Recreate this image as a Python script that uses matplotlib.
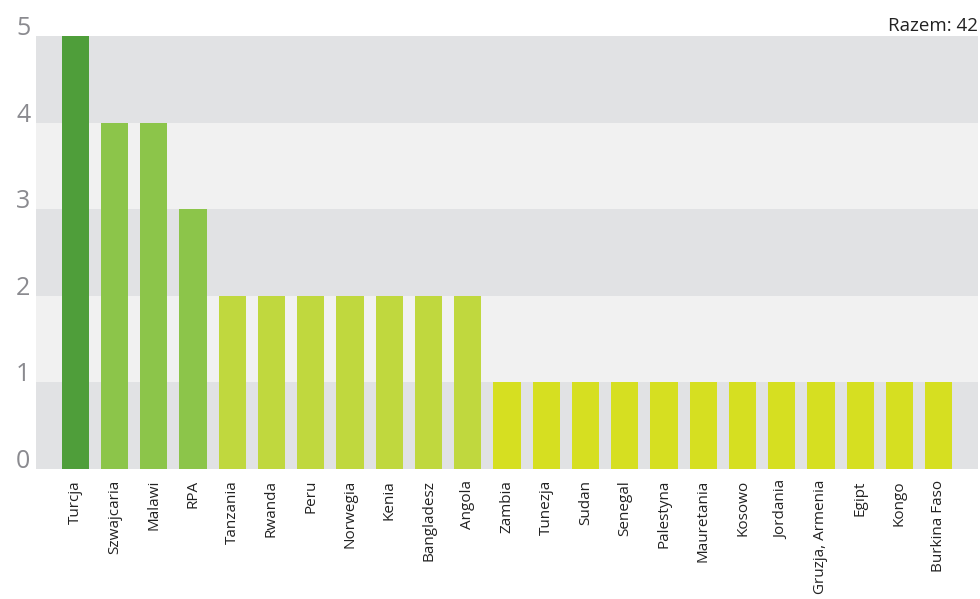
import matplotlib
matplotlib.use("Agg")
import matplotlib.pyplot as plt

categories = ["Turcja", "Szwajcaria", "Malawi", "RPA", "Tanzania", "Rwanda", "Peru",
              "Norwegia", "Kenia", "Bangladesz", "Angola", "Zambia", "Tunezja", "Sudan",
              "Senegal", "Palestyna", "Mauretania", "Kosowo", "Jordania",
              "Gruzja, Armenia", "Egipt", "Kongo", "Burkina Faso"]
values = [5, 4, 4, 3, 2, 2, 2, 2, 2, 2, 2, 1, 1, 1, 1, 1, 1, 1, 1, 1, 1, 1, 1]
yticks = [0, 1, 2, 3, 4, 5]
total_label = "Razem: 42"

color_map = {5: "#4f9e3a", 4: "#8cc54a", 3: "#8cc54a", 2: "#c0d83e", 1: "#d6df21"}
colors = [color_map[v] for v in values]

plt.rcParams['font.family'] = ['Open Sans', 'DejaVu Sans']

fig = plt.figure(figsize=(9.8, 5.99), dpi=100)
ax = fig.add_axes([36/980, (599-469)/599, (978-36)/980, (469-36)/599])

band_dark = "#e1e2e4"
band_light = "#f1f1f1"
for i in range(5):
    ax.axhspan(i, i + 1, color=band_dark if i % 2 == 0 else band_light, zorder=0, lw=0)

x = list(range(len(categories)))
ax.bar(x, values, width=0.69, color=colors, zorder=2)

ax.set_xlim(-1, len(categories))
ax.set_ylim(0, 5)
for s in ax.spines.values():
    s.set_visible(False)
ax.set_yticks([])
ax.set_xticks(x)
ax.set_xticklabels(categories, rotation=90, fontsize=11, color="#222222")
ax.tick_params(axis='x', length=0, pad=8)

for t in yticks:
    fig.text(16/980, (599 - (469 - t * (469-36)/5)) / 599 + 1/599, str(t),
             fontsize=18, color="#8a8a8f", ha='left', va='baseline')

fig.text(978/980, (599-31)/599, total_label, fontsize=13.5, color="#222222",
         ha='right', va='baseline')

fig.savefig("out.png", dpi=100, facecolor="white")
